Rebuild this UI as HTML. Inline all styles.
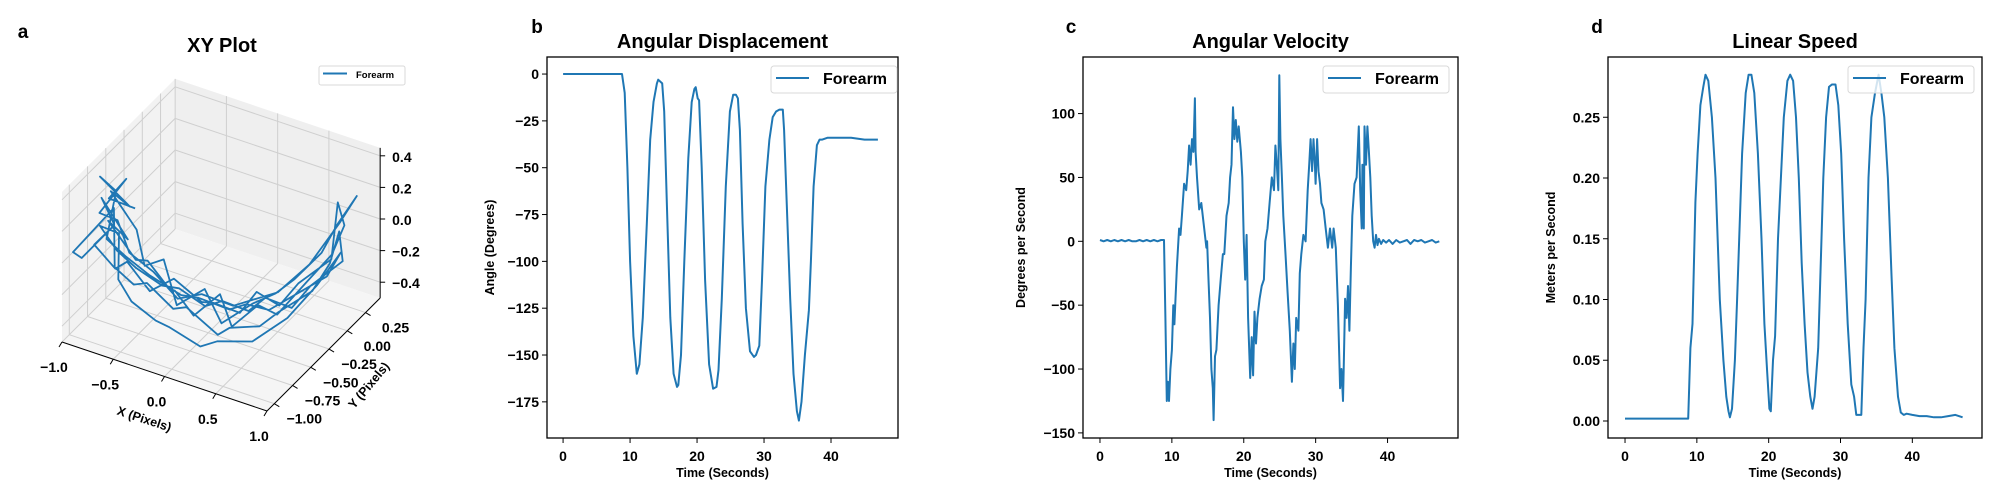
<!DOCTYPE html>
<html><head><meta charset="utf-8">
<style>
body{margin:0;background:#fff;}
svg{display:block;font-family:"Liberation Sans",Arial,sans-serif;font-weight:bold;}
</style></head>
<body>
<svg id="fig" width="2000" height="500" viewBox="0 0 2000 500">
<g id="pa"></g>
<g id="pb"></g>
<g id="pc"></g>
<g id="pd"></g>
</svg>
<script>
// ---------- Panel a data (3D trajectory) ----------
const xyX = [-0.85,-0.9,-0.75,-0.8,-0.6,-0.45,-0.3,-0.15,0.0,0.15,0.3,0.45,0.6,0.75,0.85,0.9,0.8,0.88,0.7,0.55,0.4,0.2,0.05,-0.1,-0.3,-0.5,-0.65,-0.8,-0.9,-0.78,-0.95,-1.0,-0.85,-0.7,-0.55,-0.35,-0.2,0.0,0.2,0.35,0.5,0.65,0.8,0.9,0.85,0.92,0.75,0.6,0.45,0.25,0.1,-0.1,-0.25,-0.45,-0.6,-0.75,-0.88,-0.8,-0.7,-0.5,-0.3,-0.1,0.1,0.3,0.5,0.7,0.85,0.9,0.8,0.65,0.45,0.3,0.1,-0.1,-0.3,-0.5,-0.7,-0.85,
  -0.9,-0.95,-0.8,-0.88,-0.7,-0.55,-0.4,-0.2,0.0,0.2,0.4,0.55,0.7,0.82,0.9,0.95,0.85,0.7,0.5,0.3,0.1,-0.1,-0.3,-0.5,-0.7,-0.85,-0.92,-0.8,-0.9,-0.75];
const xyY = [-0.6,-0.7,-0.55,-0.75,-0.65,-0.7,-0.6,-0.75,-0.7,-0.55,-0.6,-0.45,-0.4,-0.2,0.0,0.1,0.15,-0.05,-0.25,-0.3,-0.4,-0.35,-0.5,-0.45,-0.55,-0.6,-0.7,-0.65,-0.8,-0.7,-0.9,-0.95,-0.6,-0.8,-0.75,-0.85,-0.7,-0.8,-0.65,-0.7,-0.5,-0.45,-0.2,-0.1,0.1,0.05,-0.15,-0.2,-0.35,-0.3,-0.45,-0.4,-0.55,-0.5,-0.65,-0.7,-0.75,-0.6,-0.75,-0.85,-0.8,-0.9,-0.75,-0.8,-0.6,-0.4,-0.2,0.05,0.0,-0.2,-0.3,-0.4,-0.35,-0.5,-0.45,-0.6,-0.65,-0.7,
  -0.5,-0.65,-0.45,-0.6,-0.5,-0.6,-0.55,-0.65,-0.55,-0.6,-0.45,-0.35,-0.3,-0.1,0.0,0.2,0.1,-0.1,-0.25,-0.35,-0.3,-0.45,-0.5,-0.55,-0.6,-0.55,-0.7,-0.5,-0.6,-0.45];
const xyZ = [0.05,0.25,-0.05,0.15,-0.1,-0.05,-0.25,-0.15,-0.3,-0.2,-0.35,-0.25,-0.3,-0.15,-0.05,0.1,0.2,-0.05,-0.15,-0.3,-0.2,-0.4,-0.3,-0.35,-0.2,-0.3,-0.1,-0.2,0.0,0.1,-0.05,0.0,0.15,-0.1,-0.2,-0.1,-0.3,-0.2,-0.4,-0.3,-0.35,-0.25,-0.2,-0.05,0.05,-0.1,-0.2,-0.35,-0.25,-0.4,-0.3,-0.4,-0.25,-0.3,-0.15,-0.05,0.1,0.0,-0.2,-0.25,-0.35,-0.3,-0.45,-0.35,-0.4,-0.3,-0.15,-0.05,-0.2,-0.25,-0.35,-0.3,-0.4,-0.3,-0.35,-0.2,-0.1,0.0,
  0.2,0.35,0.1,0.25,0.0,-0.15,-0.1,-0.3,-0.2,-0.35,-0.25,-0.2,-0.1,0.0,0.15,0.25,0.1,-0.1,-0.25,-0.3,-0.4,-0.3,-0.35,-0.2,-0.1,0.05,0.15,0.3,0.2,0.1];
const xTicks3 = [-1.0,-0.5,0.0,0.5,1.0];
const yTicks3 = [-1.00,-0.75,-0.50,-0.25,0.00,0.25];
const zTicks3 = [-0.4,-0.2,0.0,0.2,0.4];

// ---------- Panel b data ----------
const dispT = [0,2,4,6,8,8.8,9.2,9.6,10,10.5,11,11.4,11.9,12.5,13.0,13.5,14.0,14.2,14.8,15.1,15.5,16.0,16.5,17.0,17.2,17.6,18.1,18.7,19.2,19.6,19.8,20.1,20.3,20.7,21.2,21.8,22.4,22.9,23.2,23.7,24.3,24.9,25.4,25.8,26.1,26.4,26.8,27.3,27.9,28.5,28.8,29.3,29.7,30.2,30.8,31.3,31.8,32.3,32.8,33.0,33.4,33.9,34.4,34.9,35.2,35.6,36.1,36.7,37.0,37.4,37.9,38.3,38.7,39.5,41,43,45,47];
const dispV = [0,0,0,0,0,0,-10,-50,-100,-140,-160,-155,-130,-80,-35,-15,-5,-3,-5,-20,-70,-130,-160,-167,-166,-150,-100,-45,-15,-8,-7,-13,-14,-50,-110,-155,-168,-167,-158,-120,-60,-20,-11,-11,-13,-30,-80,-125,-148,-151,-150,-145,-110,-60,-35,-23,-20,-19,-19,-30,-70,-120,-160,-180,-185,-175,-150,-126,-100,-60,-38,-35,-35,-34,-34,-34,-35,-35];
const dispYTicks = [0,-25,-50,-75,-100,-125,-150,-175];
const timeTicks = [0,10,20,30,40];

// ---------- Panel c data ----------
const velT = [0,0.5,1,1.5,2,2.5,3,3.5,4,4.5,
  5,5.5,6,6.5,7,7.5,8,8.5,8.9,9.1,
  9.3,9.45,9.6,9.8,10,10.2,10.35,10.5,10.7,11,
  11.2,11.4,11.7,12,12.2,12.4,12.6,12.8,13.0,13.2,
  13.3,13.5,13.8,14.1,14.5,14.8,14.9,15.1,15.3,15.5,
  15.7,15.8,16.0,16.2,16.5,16.8,17.1,17.3,17.6,17.9,
  18.1,18.3,18.5,18.7,18.9,19.1,19.3,19.6,19.8,20.0,
  20.2,20.4,20.6,20.9,21.1,21.3,21.5,21.7,21.9,22.2,
  22.5,22.8,23.0,23.3,23.6,23.9,24.2,24.4,24.6,24.8,
  24.95,25.1,25.3,25.5,25.8,26.1,26.4,26.7,26.9,27.1,
  27.3,27.6,27.8,28.0,28.3,28.6,28.9,29.1,29.3,29.5,
  29.7,29.9,30.0,30.2,30.4,30.6,30.8,31.1,31.4,31.7,
  32.0,32.3,32.5,32.8,33.1,33.4,33.6,33.8,33.9,34.1,
  34.3,34.5,34.7,34.9,35.1,35.4,35.7,36.0,36.2,36.4,
  36.5,36.7,36.8,37.0,37.2,37.4,37.6,37.8,38.0,38.2,
  38.4,38.6,38.8,39.1,39.4,39.8,40.2,40.7,41.2,41.7,
  42.2,42.7,43.2,43.7,44.2,44.7,45.2,45.7,46.2,46.7,
  47.2];
const velV = [1,0,1,0,1,0,1,0,1,0,
  0,1,0,1,0,1,0,1,1,-60,
  -125,-110,-125,-100,-85,-50,-65,-45,-20,10,
  5,20,45,40,55,75,60,80,70,112,
  70,50,25,30,10,-5,0,-30,-60,-100,
  -115,-140,-90,-85,-50,-30,-10,-10,20,30,
  50,60,105,80,95,78,90,70,50,0,
  -30,5,-60,-107,-75,-105,-55,-80,-60,-45,
  -35,-30,0,10,30,50,40,75,60,40,
  130,80,50,20,-10,-40,-70,-110,-80,-100,
  -60,-70,-25,-10,5,0,40,60,80,55,
  80,60,45,80,55,45,30,25,10,-5,
  10,-5,10,-5,-50,-115,-100,-125,-100,-45,
  -60,-35,-70,-20,20,45,50,90,40,10,
  60,10,90,60,90,70,50,20,0,-5,
  5,-3,2,-2,1,-1,1,-2,1,-1,
  0,1,-2,1,0,1,-1,0,1,-1,
  0];
const velYTicks = [100,50,0,-50,-100,-150];

// ---------- Panel d data ----------
const spdT = [0,2,4,6,8,8.8,9.1,9.4,9.8,10.1,10.5,10.9,11.2,11.6,12.1,12.6,13.2,13.7,14.1,14.4,14.6,14.9,15.3,15.6,15.9,16.3,16.8,17.2,17.6,18.0,18.5,19.0,19.4,19.8,20.1,20.3,20.6,20.9,21.3,21.7,22.1,22.6,23.0,23.4,23.8,24.2,24.6,25.0,25.4,25.8,26.1,26.4,26.9,27.2,27.6,28.0,28.4,28.8,29.3,29.7,30.1,30.5,31.0,31.5,31.9,32.2,32.6,32.9,33.2,33.5,33.9,34.3,34.8,35.3,35.7,36.1,36.6,37.1,37.5,38.0,38.4,38.8,39.2,40,41,42,43,44,45,46,47];
const spdV = [0.002,0.002,0.002,0.002,0.002,0.002,0.06,0.08,0.18,0.22,0.26,0.275,0.285,0.28,0.25,0.2,0.1,0.05,0.02,0.008,0.003,0.01,0.05,0.1,0.15,0.22,0.27,0.285,0.285,0.27,0.22,0.15,0.08,0.04,0.01,0.008,0.05,0.07,0.15,0.2,0.25,0.28,0.285,0.28,0.25,0.2,0.13,0.08,0.04,0.02,0.01,0.02,0.06,0.12,0.2,0.25,0.275,0.277,0.277,0.26,0.22,0.15,0.08,0.03,0.02,0.005,0.005,0.005,0.06,0.1,0.2,0.25,0.27,0.285,0.27,0.25,0.2,0.12,0.06,0.02,0.007,0.005,0.006,0.005,0.004,0.004,0.003,0.003,0.004,0.005,0.003];
const spdYTicks = [0.00,0.05,0.10,0.15,0.20,0.25];

const NS = "http://www.w3.org/2000/svg";
const BLUE = "#1f77b4";
function mk(tag, attrs, parent, text){
  const e = document.createElementNS(NS, tag);
  for (const k in attrs) e.setAttribute(k, attrs[k]);
  if (text !== undefined) e.textContent = text;
  parent.appendChild(e);
  return e;
}

// ---------- 2D panels ----------
function panel2D(g, cfg){
  const {L,R,T,B,xmin,xmax,ymin,ymax,xs,ys,yTicks,fmt,title,letter,letterX,ylabel,ylabelX,legend} = cfg;
  const sx = v => L + (v - xmin) / (xmax - xmin) * (R - L);
  const sy = v => B - (v - ymin) / (ymax - ymin) * (B - T);
  const t = mk('text', {x: letterX, y: 33, 'font-size': 19, 'text-anchor':'middle'}, g, letter);
  
  
  const ti = mk('text', {x: (L+R)/2, y: 48, 'font-size': 20, 'text-anchor':'middle'}, g, title);
  
  
  let d = '';
  const n = Math.min(xs.length, ys.length);
  for (let i = 0; i < n; i++) d += (i ? 'L' : 'M') + sx(xs[i]).toFixed(1) + ',' + sy(ys[i]).toFixed(1);
  const p = mk('path', {d, fill:'none', stroke: BLUE, 'stroke-width': 2, 'stroke-linejoin':'round'}, g);
  
  
  const fr = mk('rect', {x:L, y:T, width:R-L, height:B-T, fill:'none', stroke:'#000', 'stroke-width':1.3}, g);
  
  
  timeTicks.forEach(v => {
    const x = sx(v);
    mk('line', {x1:x, x2:x, y1:B, y2:B+5, stroke:'#000', 'stroke-width':1}, g);
    const tl = mk('text', {x, y:B+23, 'font-size':14, 'text-anchor':'middle'}, g, String(v));
    
    
  });
  yTicks.forEach(v => {
    const y = sy(v);
    mk('line', {x1:L-5, x2:L, y1:y, y2:y, stroke:'#000', 'stroke-width':1}, g);
    const tl = mk('text', {x:L-8, y:y+5, 'font-size':14, 'text-anchor':'end'}, g, fmt(v));
    
    
  });
  const xl = mk('text', {x:(L+R)/2, y:477, 'font-size':12.5, 'text-anchor':'middle'}, g, 'Time (Seconds)');
  
  
  const yl = mk('text', {x:0, y:0, 'font-size':12.5, 'text-anchor':'middle', transform:`translate(${ylabelX},${(T+B)/2}) rotate(-90)`}, g, ylabel);
  
  
  const lg = mk('g', {}, g);
  
  
  mk('rect', {x:legend, y:66, width:126, height:27, rx:3, fill:'rgba(255,255,255,0.8)', stroke:'#d9d9d9', 'stroke-width':1}, lg);
  mk('line', {x1:legend+5, x2:legend+38, y1:78, y2:78, stroke:BLUE, 'stroke-width':2}, lg);
  mk('text', {x:legend+52, y:84, 'font-size':16}, lg, 'Forearm');
}
const fInt = v => (v < 0 ? '\u2212' + Math.abs(v) : String(v));
panel2D(document.getElementById('pb'), {L:547,R:898,T:57,B:438,xmin:-2.4,xmax:50,ymin:-194.3,ymax:9.1,xs:dispT,ys:dispV,yTicks:dispYTicks,fmt:fInt,title:'Angular Displacement',letter:'b',letterX:537,ylabel:'Angle (Degrees)',ylabelX:494,legend:771});
panel2D(document.getElementById('pc'), {L:1083,R:1458,T:57,B:438,xmin:-2.36,xmax:49.8,ymin:-154,ymax:144.3,xs:velT,ys:velV,yTicks:velYTicks,fmt:fInt,title:'Angular Velocity',letter:'c',letterX:1071,ylabel:'Degrees per Second',ylabelX:1025,legend:1323});
panel2D(document.getElementById('pd'), {L:1608,R:1982,T:57,B:438,xmin:-2.37,xmax:49.7,ymin:-0.0140,ymax:0.2996,xs:spdT,ys:spdV,yTicks:spdYTicks,fmt:v=>v.toFixed(2),title:'Linear Speed',letter:'d',letterX:1597,ylabel:'Meters per Second',ylabelX:1555,legend:1848});

// ---------- Panel a 3D ----------
(function(){
  const g = document.getElementById('pa');
  const X0=-1, Y0=-1.1, Z0=-0.5, X1=1, Y1=0.45, Z1=0.45;
  const P = (x,y,z) => [62 + (x-X0)*102.5 + (y-Y0)*73, 342 + (x-X0)*34.5 - (y-Y0)*72.9 - (z-Z0)*158];
  const poly = (pts, fill) => mk('polygon', {points: pts.map(p=>p.join(',')).join(' '), fill, stroke:'none'}, g);
  const ln = (a,b,c,w) => mk('line', {x1:a[0],y1:a[1],x2:b[0],y2:b[1],stroke:c,'stroke-width':w||1}, g);
  const pl = poly([P(X0,Y0,Z0),P(X0,Y1,Z0),P(X0,Y1,Z1),P(X0,Y0,Z1)], '#f2f2f2');
  
  
  const pb = poly([P(X0,Y1,Z0),P(X1,Y1,Z0),P(X1,Y1,Z1),P(X0,Y1,Z1)], '#efefef');
  
  
  const pf = poly([P(X0,Y0,Z0),P(X1,Y0,Z0),P(X1,Y1,Z0),P(X0,Y1,Z0)], '#f5f5f5');
  
  
  const gc = '#cfcfcf';
  xTicks3.forEach(x => { ln(P(x,Y0,Z0),P(x,Y1,Z0),gc); ln(P(x,Y1,Z0),P(x,Y1,Z1),gc); });
  yTicks3.forEach(y => { ln(P(X0,y,Z0),P(X1,y,Z0),gc); ln(P(X0,y,Z0),P(X0,y,Z1),gc); });
  zTicks3.forEach(z => { ln(P(X0,Y0,z),P(X0,Y1,z),gc); ln(P(X0,Y1,z),P(X1,Y1,z),gc); });
  ln(P(X0,Y0,Z0),P(X1,Y0,Z0),'#000',1);
  ln(P(X1,Y0,Z0),P(X1,Y1,Z0),'#000',1);
  ln(P(X1,Y1,Z0),P(X1,Y1,Z1),'#000',1);
  let d='';
  const n = Math.min(xyX.length, xyY.length, xyZ.length);
  for (let i=0;i<n;i++){ const p=P(xyX[i],xyY[i],xyZ[i]); d+=(i?'L':'M')+p[0].toFixed(1)+','+p[1].toFixed(1); }
  const path = mk('path', {d, fill:'none', stroke:BLUE, 'stroke-width':1.8, 'stroke-linejoin':'round'}, g);
  
  
  xTicks3.forEach(x => { const a=P(x,Y0,Z0); ln(a,[a[0]-3,a[1]+5],'#000',1);
    const t=mk('text',{x:a[0]-8,y:a[1]+30,'font-size':14,'text-anchor':'middle'},g,(x<0?'\u2212':'')+Math.abs(x).toFixed(1));
      });
  yTicks3.forEach(y => { const a=P(X1,y,Z0); ln(a,[a[0]+5,a[1]+3],'#000',1);
    const t=mk('text',{x:a[0]+30,y:a[1]+20,'font-size':14,'text-anchor':'middle'},g,(y<0?'\u2212':'')+Math.abs(y).toFixed(2));
      });
  zTicks3.forEach(z => { const a=P(X1,Y1,z); ln(a,[a[0]+5,a[1]],'#000',1);
    const t=mk('text',{x:a[0]+12,y:a[1]+6,'font-size':14},g,(z<0?'\u2212':'')+Math.abs(z).toFixed(1));
      });
  const xl=mk('text',{x:0,y:0,'font-size':12.5,'text-anchor':'middle',transform:'translate(143,423) rotate(18)'},g,'X (Pixels)');
   
  const yl=mk('text',{x:0,y:0,'font-size':12.5,'text-anchor':'middle',transform:'translate(372,388) rotate(-50)'},g,'Y (Pixels)');
   
  const tt=mk('text',{x:222,y:52,'font-size':20,'text-anchor':'middle'},g,'XY Plot');
   
  const lt=mk('text',{x:23,y:38,'font-size':19,'text-anchor':'middle'},g,'a');
   
  const lg=mk('g',{},g);
   
  mk('rect',{x:319,y:66,width:86,height:19,rx:2,fill:'#fff',stroke:'#d9d9d9'},lg);
  mk('line',{x1:323,x2:347,y1:73.5,y2:73.5,stroke:BLUE,'stroke-width':2},lg);
  mk('text',{x:356,y:78,'font-size':9.5},lg,'Forearm');
})();
</script>
</body></html>
